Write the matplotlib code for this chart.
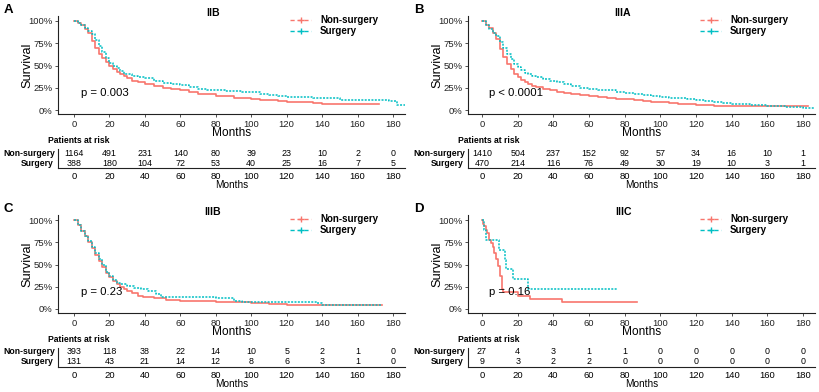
import matplotlib
matplotlib.use("Agg")
import matplotlib.pyplot as plt
from matplotlib.lines import Line2D

plt.rcParams['font.family'] = ['Liberation Sans', 'DejaVu Sans']

RED = '#F8766D'
TEAL = '#00BFC4'

W, H = 819, 392

# ---------------- data ----------------
risk_times = [0, 20, 40, 60, 80, 100, 120, 140, 160, 180]
groups = ['Non-surgery', 'Surgery']

# Panel A: IIB
a_title = 'IIB'
a_p = 'p = 0.003'
a_non_t = [0, 2, 4, 6, 8, 10, 12, 14, 16, 18, 20, 22, 24, 26, 28, 30, 33, 36, 40, 45, 50, 55, 60, 65, 70,
           75, 80, 85, 90, 95, 100, 105, 110, 115, 120, 125, 130, 135, 140, 150, 160, 172]
a_non_s = [1.0, 0.98, 0.95, 0.91, 0.86, 0.78, 0.70, 0.63, 0.58, 0.54, 0.50, 0.46, 0.43, 0.41, 0.38, 0.36,
           0.33, 0.31, 0.29, 0.27, 0.25, 0.235, 0.22, 0.20, 0.18, 0.175, 0.16, 0.155, 0.14, 0.13, 0.12,
           0.115, 0.11, 0.10, 0.095, 0.09, 0.085, 0.08, 0.07, 0.068, 0.066, 0.066]
a_sur_t = [0, 2, 4, 6, 8, 10, 12, 14, 16, 18, 20, 22, 24, 26, 28, 30, 33, 36, 40, 45, 50, 55, 60, 65, 70,
           75, 80, 85, 90, 95, 100, 105, 110, 115, 120, 125, 130, 135, 140, 145, 150, 160, 170, 178, 182, 188]
a_sur_s = [1.0, 0.98, 0.95, 0.92, 0.89, 0.85, 0.79, 0.72, 0.65, 0.58, 0.53, 0.50, 0.47, 0.44, 0.41, 0.40,
           0.38, 0.37, 0.36, 0.33, 0.30, 0.29, 0.28, 0.26, 0.24, 0.23, 0.22, 0.21, 0.21, 0.20, 0.20, 0.18,
           0.17, 0.16, 0.15, 0.15, 0.15, 0.14, 0.14, 0.13, 0.11, 0.11, 0.11, 0.10, 0.06, 0.05]
a_risk_non = [1164, 491, 231, 140, 80, 39, 23, 10, 2, 0]
a_risk_sur = [388, 180, 104, 72, 53, 40, 25, 16, 7, 5]

# Panel B: IIIA
b_title = 'IIIA'
b_p = 'p < 0.0001'
b_non_t = [0, 2, 4, 6, 8, 10, 12, 14, 16, 18, 20, 22, 24, 26, 28, 30, 34, 38, 42, 46, 50, 55, 60, 65, 70,
           75, 80, 85, 90, 95, 100, 105, 110, 120, 130, 140, 150, 160, 170, 183]
b_non_s = [1.0, 0.96, 0.92, 0.87, 0.80, 0.68, 0.59, 0.52, 0.46, 0.41, 0.37, 0.34, 0.31, 0.29, 0.27, 0.26,
           0.24, 0.22, 0.20, 0.19, 0.18, 0.165, 0.155, 0.145, 0.135, 0.125, 0.12, 0.11, 0.10, 0.095, 0.09,
           0.08, 0.07, 0.06, 0.05, 0.045, 0.045, 0.045, 0.04, 0.04]
b_sur_t = [0, 2, 4, 6, 8, 10, 12, 14, 16, 18, 20, 22, 24, 26, 28, 30, 34, 38, 42, 46, 50, 55, 60, 65, 70,
           75, 80, 85, 90, 95, 100, 105, 110, 115, 120, 125, 130, 135, 140, 145, 150, 155, 160, 165, 170,
           180, 188]
b_sur_s = [1.0, 0.95, 0.91, 0.87, 0.83, 0.76, 0.70, 0.63, 0.57, 0.52, 0.48, 0.45, 0.42, 0.40, 0.38, 0.37,
           0.35, 0.33, 0.31, 0.29, 0.27, 0.25, 0.24, 0.23, 0.22, 0.20, 0.19, 0.18, 0.17, 0.16, 0.15, 0.14,
           0.13, 0.12, 0.11, 0.10, 0.09, 0.08, 0.07, 0.065, 0.06, 0.055, 0.05, 0.04, 0.03, 0.025, 0.02]
b_risk_non = [1410, 504, 237, 152, 92, 57, 34, 16, 10, 1]
b_risk_sur = [470, 214, 116, 76, 49, 30, 19, 10, 3, 1]

# Panel C: IIIB
c_title = 'IIIB'
c_p = 'p = 0.23'
c_non_t = [0, 2, 4, 6, 8, 10, 12, 14, 16, 18, 20, 22, 24, 26, 28, 30, 33, 36, 39, 45, 52, 60, 70, 80, 90,
           100, 110, 120, 140, 160, 174]
c_non_s = [1.0, 0.94, 0.88, 0.82, 0.75, 0.68, 0.61, 0.54, 0.47, 0.41, 0.36, 0.32, 0.28, 0.25, 0.22, 0.20,
           0.18, 0.15, 0.13, 0.12, 0.10, 0.09, 0.085, 0.08, 0.075, 0.07, 0.055, 0.045, 0.045, 0.045, 0.045]
c_sur_t = [0, 2, 4, 6, 8, 10, 12, 14, 16, 18, 20, 22, 24, 26, 30, 34, 38, 42, 46, 49, 55, 60, 70, 80, 87,
           90, 95, 100, 110, 120, 130, 137, 140, 174]
c_sur_s = [1.0, 0.94, 0.88, 0.82, 0.76, 0.70, 0.63, 0.56, 0.49, 0.42, 0.37, 0.33, 0.29, 0.28, 0.26, 0.24,
           0.22, 0.20, 0.17, 0.14, 0.13, 0.13, 0.13, 0.12, 0.12, 0.09, 0.08, 0.08, 0.08, 0.08, 0.075, 0.07,
           0.05, 0.05]
c_risk_non = [393, 118, 38, 22, 14, 10, 5, 2, 1, 0]
c_risk_sur = [131, 43, 21, 14, 12, 8, 6, 3, 1, 0]

# Panel D: IIIC
d_title = 'IIIC'
d_p = 'p = 0.16'
d_non_t = [0, 0.5, 1, 2, 3, 4, 5, 6, 7, 8, 9, 10, 11, 12, 20, 27, 45, 87]
d_non_s = [1.0, 0.96, 0.93, 0.89, 0.85, 0.78, 0.74, 0.70, 0.63, 0.56, 0.48, 0.37, 0.22, 0.19, 0.15, 0.115,
           0.08, 0.08]
d_sur_t = [0, 1, 2, 9.5, 12.7, 13.6, 17.4, 26, 76]
d_sur_s = [1.0, 0.889, 0.778, 0.667, 0.556, 0.444, 0.333, 0.222, 0.222]
d_risk_non = [27, 4, 3, 1, 1, 0, 0, 0, 0, 0]
d_risk_sur = [9, 3, 2, 2, 0, 0, 0, 0, 0, 0]

yticks = [0, 0.25, 0.5, 0.75, 1.0]
ytick_labels = ['0%', '25%', '50%', '75%', '100%']

fig = plt.figure(figsize=(W / 100, H / 100), dpi=100)


def fx(px):
    return px / W


def fy(py):
    return 1 - py / H


def panel(letter, title, ptext, non_t, non_s, sur_t, sur_s, risk_non, risk_sur,
          ox, oy, x0px, x180px, right_px):
    left = ox + 58
    top = oy + 16
    bottom = oy + 114
    y100 = oy + 21
    y0 = oy + 110
    scale = (x180px - x0px) / 180.0
    xmin = (left - x0px) / scale
    xmax = (right_px - x0px) / scale
    yscale = (y0 - y100)
    ymin = -(bottom - y0) / yscale
    ymax = 1 + (y100 - top) / yscale
    width_px = right_px - left

    ax = fig.add_axes([fx(left), fy(bottom), fx(width_px), (bottom - top) / H])
    ax.step(non_t, non_s, where='post', color=RED, lw=1.2)
    ax.step(sur_t, sur_s, where='post', color=TEAL, lw=1.1, linestyle=(0, (1.3, 0.9)))
    ax.set_xlim(xmin, xmax)
    ax.set_ylim(ymin, ymax)
    ax.set_xticks(risk_times)
    ax.set_yticks(yticks)
    ax.set_yticklabels(ytick_labels)
    ax.tick_params(labelsize=6.8, length=2, width=0.6, colors='#333333', pad=2)
    for lab in ax.get_xticklabels() + ax.get_yticklabels():
        lab.set_color('#222222')
    for s in ['top', 'right']:
        ax.spines[s].set_visible(False)
    for s in ['left', 'bottom']:
        ax.spines[s].set_linewidth(0.8)
        ax.spines[s].set_color('#222222')
    ax.set_xlabel('Months', fontsize=8.6)
    ax.xaxis.set_label_coords(0.5, -0.135)
    ax.xaxis.label.set_va('top')
    ax.set_ylabel('Survival', fontsize=9.2)
    ax.yaxis.set_label_coords((ox + 33 - left) / width_px, 0.5)
    ax.text(4, 0.19, ptext, fontsize=8.2, ha='left', va='center')

    fig.text(fx(ox + 213), fy(oy + 13), title, fontsize=7.6, fontweight='bold',
             ha='center', va='center')
    fig.text(fx(ox + 4), fy(oy + 10), letter, fontsize=9.5, fontweight='bold',
             ha='left', va='center')

    handles = [
        Line2D([0], [0], color=RED, lw=1.0, linestyle=(0, (3, 2)), marker='+', markersize=4),
        Line2D([0], [0], color=TEAL, lw=1.0, linestyle=(0, (3, 2)), marker='+', markersize=4),
    ]
    fig.legend(handles, groups, loc='upper left',
               bbox_to_anchor=(fx(ox + 290), fy(oy + 15)),
               frameon=False, prop={'size': 7.0, 'weight': 'bold'},
               handlelength=2.2, handletextpad=0.9, labelspacing=0.1,
               borderaxespad=0, borderpad=0)

    ttop = oy + 146
    tbot = oy + 168
    tax = fig.add_axes([fx(left), fy(tbot), fx(width_px), (tbot - ttop) / H])
    tax.set_xlim(xmin, xmax)
    tax.set_ylim(-0.5, 1.7)
    for s in ['top', 'right']:
        tax.spines[s].set_visible(False)
    tax.spines['left'].set_bounds(-0.5, 1.4)
    for s in ['left', 'bottom']:
        tax.spines[s].set_linewidth(0.8)
        tax.spines[s].set_color('#222222')
    tax.set_yticks([])
    tax.set_xticks(risk_times)
    tax.tick_params(axis='x', labelsize=6.8, length=0, pad=3)
    tax.set_xlabel('Months', fontsize=7.2, labelpad=-1)
    for t, n in zip(risk_times, risk_non):
        tax.text(t, 1, str(n), fontsize=6.4, ha='center', va='center')
    for t, n in zip(risk_times, risk_sur):
        tax.text(t, 0, str(n), fontsize=6.4, ha='center', va='center')
    fig.text(fx(ox + 55), fy(oy + 153), groups[0], fontsize=6.2, fontweight='bold',
             ha='right', va='center')
    fig.text(fx(ox + 54), fy(oy + 163), groups[1], fontsize=6.2, fontweight='bold',
             ha='right', va='center')
    fig.text(fx(ox + 48), fy(oy + 141), 'Patients at risk', fontsize=6.2,
             fontweight='bold', ha='left', va='center')


panel('A', a_title, a_p, a_non_t, a_non_s, a_sur_t, a_sur_s, a_risk_non, a_risk_sur,
      0, 0, 74, 393, 405)
panel('B', b_title, b_p, b_non_t, b_non_s, b_sur_t, b_sur_s, b_risk_non, b_risk_sur,
      410, 0, 482, 803, 815)
panel('C', c_title, c_p, c_non_t, c_non_s, c_sur_t, c_sur_s, c_risk_non, c_risk_sur,
      0, 199, 74, 393, 405)
panel('D', d_title, d_p, d_non_t, d_non_s, d_sur_t, d_sur_s, d_risk_non, d_risk_sur,
      410, 199, 482, 803, 815)

fig.savefig('out.png', dpi=100)
